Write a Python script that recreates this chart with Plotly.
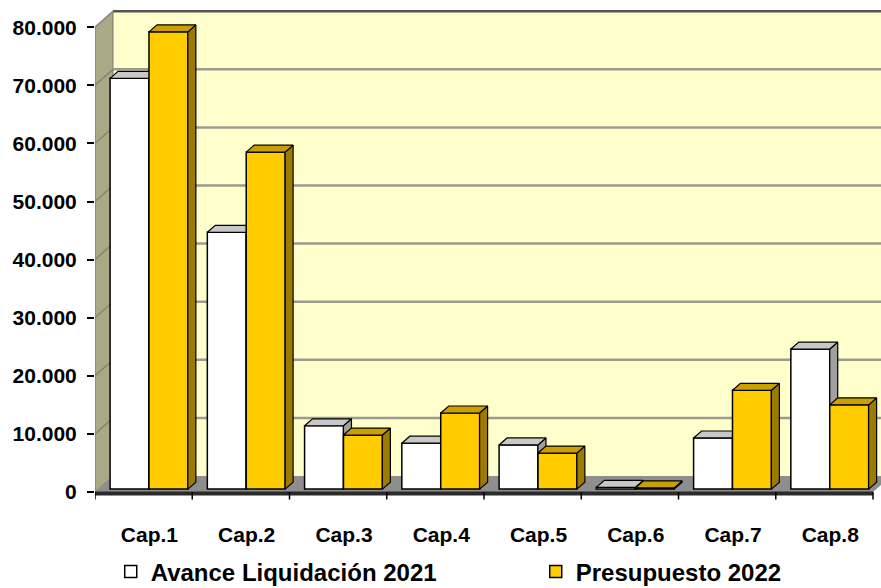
import plotly.graph_objects as go

categories = ["Cap.1", "Cap.2", "Cap.3", "Cap.4", "Cap.5", "Cap.6", "Cap.7", "Cap.8"]
avance_2021 = [70700, 44200, 10900, 7900, 7600, 300, 8800, 24100]
presupuesto_2022 = [78700, 58000, 9300, 13100, 6200, 200, 17000, 14500]
series_names = ["Avance Liquidación 2021", "Presupuesto 2022"]
y_ticks = [0, 10000, 20000, 30000, 40000, 50000, 60000, 70000, 80000]

# ---- styling / geometry (not data) ----
FRONT = "#FFCC00"
WHITE = "#FFFFFF"
GOLD_TOP = "#C9A000"
GOLD_SIDE = "#9C7B00"
WHITE_TOP = "#C8C8C8"
WHITE_SIDE = "#A0A0A0"
WALL = "#FFFFCC"
SIDEWALL = "#A9A986"
FLOOR = "#8E8E8E"
GRID = "#9A9A90"

n = len(categories)
X0, XN = -0.5, n - 0.5
XMAX = 7.582
YMIN, YMAX = -1550, 83305
YTOP = y_ticks[-1]
DX, DY = 0.185, 2750      # wall depth offset
BDX, BDY = 0.082, 1200    # bar depth offset
BASE = 500
W = 0.40
OFFS = [-0.145, 0.255]
FONT = dict(family="Liberation Sans, Arial, sans-serif", size=21, color="black", weight="bold")
LEGFONT = dict(family="Liberation Sans, Arial, sans-serif", size=24, color="black", weight="bold")


def faces(values, off):
    tx, ty, sx, sy = [], [], [], []
    for i, v in enumerate(values):
        xl = i + off - W / 2
        xr = i + off + W / 2
        t = BASE + v
        tx += [xl, xl + BDX, xr + BDX, xr, xl, None]
        ty += [t, t + BDY, t + BDY, t, t, None]
        sx += [xr, xr + BDX, xr + BDX, xr, xr, None]
        sy += [BASE, BASE + BDY, t + BDY, t, BASE, None]
    return tx, ty, sx, sy


fig = go.Figure()
specs = [
    (avance_2021, OFFS[0], WHITE, WHITE_TOP, WHITE_SIDE, "x", "y", 380),
    (presupuesto_2022, OFFS[1], FRONT, GOLD_TOP, GOLD_SIDE, "x2", "y2", 210),
]
for k, (vals, off, fc, topc, sidec, xa, ya, lw) in enumerate(specs):
    fig.add_trace(go.Bar(
        x=[i + off for i in range(n)], y=vals, base=BASE, width=W,
        marker=dict(color=fc, line=dict(color="black", width=1.5)),
        name=series_names[k], xaxis=xa, yaxis=ya, hoverinfo="skip", legendwidth=lw,
    ))
    tx, ty, sx, sy = faces(vals, off)
    fig.add_trace(go.Scatter(x=sx, y=sy, fill="toself", fillcolor=sidec, mode="lines",
                             line=dict(color="black", width=1.2), showlegend=False,
                             hoverinfo="skip", xaxis=xa, yaxis=ya))
    fig.add_trace(go.Scatter(x=tx, y=ty, fill="toself", fillcolor=topc, mode="lines",
                             line=dict(color="black", width=1.2), showlegend=False,
                             hoverinfo="skip", xaxis=xa, yaxis=ya))

shapes = []
shapes.append(dict(type="rect", xref="x", yref="y", x0=X0 + DX, x1=XMAX + 1, y0=DY, y1=YTOP + DY,
                   fillcolor=WALL, line=dict(width=0), layer="below"))
shapes.append(dict(type="path", xref="x", yref="y",
                   path=f"M{X0},0 L{X0+DX},{DY} L{X0+DX},{YTOP+DY} L{X0},{YTOP} Z",
                   fillcolor=SIDEWALL, line=dict(color="#7A7A70", width=1), layer="below"))
shapes.append(dict(type="path", xref="x", yref="y",
                   path=f"M{X0},0 L{X0+DX},{DY} L{XN+DX},{DY} L{XN},0 Z",
                   fillcolor=FLOOR, line=dict(width=0), layer="below"))
for v in y_ticks[1:]:
    col = "#555555" if v == YTOP else GRID
    shapes.append(dict(type="line", xref="x", yref="y", x0=X0 + DX, x1=XMAX + 1, y0=v + DY, y1=v + DY,
                       line=dict(color=col, width=2.5), layer="below"))
    shapes.append(dict(type="line", xref="x", yref="y", x0=X0, x1=X0 + DX, y0=v, y1=v + DY,
                       line=dict(color="#858578", width=1.5), layer="below"))
shapes.append(dict(type="line", xref="x", yref="y", x0=X0, x1=XN, y0=-250, y1=-250,
                   line=dict(color="#2a2a2a", width=4), layer="below"))
for k in range(n + 1):
    shapes.append(dict(type="line", xref="x", yref="y", x0=X0 + k, x1=X0 + k, y0=0, y1=-1300,
                       line=dict(color="black", width=1.5), layer="below"))

fig.update_layout(
    width=881, height=588,
    margin=dict(l=95, r=0, t=8, b=87, autoexpand=False),
    paper_bgcolor="white", plot_bgcolor="white",
    separators=",.",
    barmode="overlay",
    font=FONT,
    shapes=shapes,
    showlegend=True,
    legend=dict(orientation="h", x=0.02, xanchor="left", y=-0.144, yanchor="middle",
                font=LEGFONT, entrywidthmode="pixels",
                bgcolor="rgba(0,0,0,0)", traceorder="normal"),
    xaxis=dict(range=[X0, XMAX], tickvals=[i + 0.06 for i in range(n)], ticktext=categories,
               showgrid=False, zeroline=False, showline=False, ticks="outside", ticklen=15,
               tickcolor="rgba(0,0,0,0)", tickfont=FONT, fixedrange=True, automargin=False),
    yaxis=dict(range=[YMIN, YMAX], tickvals=y_ticks, tickformat=",d", showgrid=False,
               zeroline=False, showline=False, ticks="outside", ticklen=7, tickcolor="black",
               tickwidth=1.5, tickfont=FONT, ticklabelstandoff=6, fixedrange=True, automargin=False),
    xaxis2=dict(range=[X0, XMAX], overlaying="x", visible=False, fixedrange=True),
    yaxis2=dict(range=[YMIN, YMAX], overlaying="y", visible=False, fixedrange=True),
)

fig.write_html("out.html")
